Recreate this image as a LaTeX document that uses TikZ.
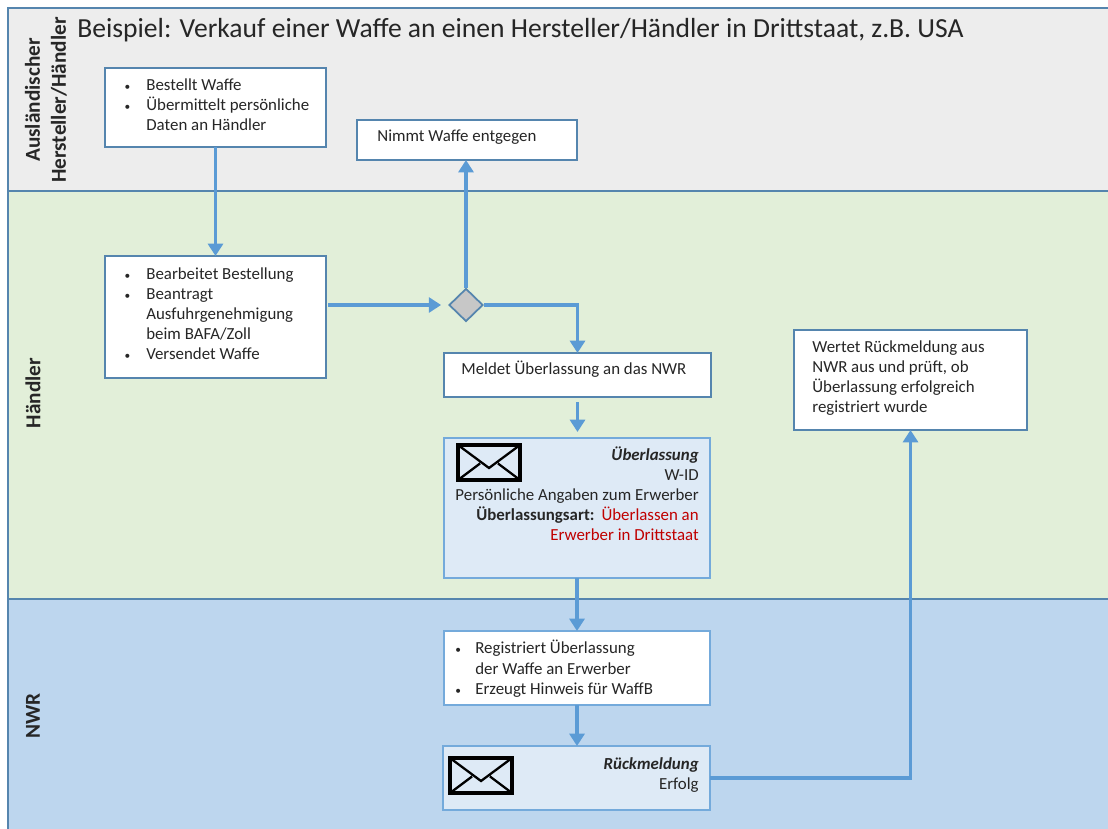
\documentclass[tikz,border=0pt]{standalone}
\usepackage{fontspec}
\setmainfont{Carlito}
\usetikzlibrary{arrows.meta,shapes.geometric,calc}
\definecolor{lanegray}{HTML}{EDEDED}
\definecolor{lanegreen}{HTML}{E2EFD9}
\definecolor{laneblue}{HTML}{BDD6EE}
\definecolor{msgblue}{HTML}{DEEAF6}
\definecolor{flowblue}{HTML}{5B9BD5}
\definecolor{edgeblue}{HTML}{5585AE}
\definecolor{textdark}{HTML}{262626}
\definecolor{textred}{HTML}{C00000}
\newcommand{\pxw}{0.02cm}
\newcommand{\dotmark}{{\fontsize{6.5}{6.5}\selectfont\textbullet}}
\newcommand{\bul}{\llap{\dotmark\hspace{9.2pt}}}
\newcommand{\bulb}{\llap{\dotmark\hspace{8.2pt}}}
\tikzset{
  procbox/.style={draw=edgeblue,fill=white,line width=1pt,inner sep=0pt,outer sep=0pt,anchor=north west},
  lightbox/.style={procbox,draw=flowblue!85},
  msgbox/.style={procbox,draw=flowblue!85,fill=msgblue},
  txt/.style={inner sep=0pt,anchor=north west,align=left,text=textdark,
    font=\fontsize{9.6}{11.45}\selectfont,execute at begin node={\rule{0pt}{7.5pt}}},
  txtr/.style={txt,anchor=north east,align=right},
  lanelabel/.style={rotate=90,inner sep=0pt,align=center,text=textdark,
    font=\fontsize{12.1}{14.8}\selectfont\bfseries},
  lane/.style={draw=edgeblue,line width=1pt},
  flow/.style={draw=flowblue,line width=2pt,-{Triangle[length=7pt,width=8.5pt]}},
  envelope/.style={draw=black,fill=msgblue,line width=2.4pt,inner sep=0pt,outer sep=0pt,anchor=north west,
    path picture={\draw[black,line width=1.3pt]
      (path picture bounding box.north west) -- ($(path picture bounding box.center)+(0,-5.5*\pxw)$)
      -- (path picture bounding box.north east)
      (path picture bounding box.south west) -- ($(path picture bounding box.center)+(-9*\pxw,-1*\pxw)$)
      (path picture bounding box.south east) -- ($(path picture bounding box.center)+(9*\pxw,-1*\pxw)$);}},
}
\begin{document}
\begin{tikzpicture}[x=\pxw,y=-\pxw]
\useasboundingbox (0,0) rectangle (1108,828);

% Drawing lanes
\filldraw [lane,fill=lanegray] (8,8) rectangle (1112,191);
\filldraw [lane,fill=lanegreen] (8,191) rectangle (1112,599);
\filldraw [lane,fill=laneblue] (8,599) rectangle (1112,834);

% Lane labels
\node [lanelabel] (lanea) at (46,100) {Ausländischer\\Hersteller/Händler};
\node [lanelabel] (laneb) at (33,393) {Händler};
\node [lanelabel] (lanec) at (33,716) {NWR};
\node [inner sep=0pt,anchor=west,text=textdark,font=\fontsize{15.7}{18}\selectfont] (title) at (77,30)
  {Beispiel: Verkauf einer Waffe an einen Hersteller/Händler in Drittstaat, z.B. USA};

% Drawing boxes
\node [procbox,minimum width=221*\pxw,minimum height=79*\pxw] (bestellt) at (105,68) {};
\node [procbox,minimum width=220*\pxw,minimum height=40*\pxw] (nimmt) at (357,120) {};
\node [procbox,minimum width=221*\pxw,minimum height=122*\pxw] (bearbeitet) at (105,256) {};
\node [procbox,minimum width=267*\pxw,minimum height=44*\pxw] (meldet) at (444,353) {};
\node [msgbox,minimum width=266*\pxw,minimum height=140*\pxw] (ueberlassung) at (444,438) {};
\node [lightbox,minimum width=266*\pxw,minimum height=74*\pxw] (registriert) at (444,631) {};
\node [msgbox,minimum width=267*\pxw,minimum height=64*\pxw] (rueckmeldung) at (443,746) {};
\node [procbox,minimum width=233*\pxw,minimum height=100*\pxw] (wertet) at (794,330) {};
\node [diamond,draw=edgeblue,fill=black!22,line width=1pt,inner sep=0pt,minimum width=34*\pxw,minimum height=33*\pxw] (gate) at (466,305) {};

% Envelopes
\node [envelope,minimum width=62*\pxw,minimum height=35*\pxw] (enva) at (458,445) {};
\node [envelope,minimum width=62*\pxw,minimum height=35*\pxw] (envb) at (450,758) {};

% Box texts
\node [txt] (tbestellt) at (146,78) {\bul Bestellt Waffe\\\bul Übermittelt persönliche\\Daten an Händler};
\node [txt] (tnimmt) at (377,128) {Nimmt Waffe entgegen};
\node [txt] (tbearbeitet) at (146,267) {\bul Bearbeitet Bestellung\\\bul Beantragt\\Ausfuhrgenehmigung\\beim BAFA/Zoll\\\bul Versendet Waffe};
\node [txt] (tmeldet) at (461,361) {Meldet Überlassung an das NWR};
\node [txtr] (tueberlassung) at (699,446) {\textbf{\textit{Überlassung}}\\W-ID\\Persönliche Angaben zum Erwerber\\
  \textbf{Überlassungsart:}\hspace{4pt}\textcolor{textred}{Überlassen an}\\\textcolor{textred}{Erwerber in Drittstaat}};
\node [txt] (tregistriert) at (475,640) {\bulb Registriert Überlassung\\der Waffe an Erwerber\\\bulb Erzeugt Hinweis für WaffB};
\node [txtr] (trueckmeldung) at (699,757) {\textbf{\textit{Rückmeldung}}\\Erfolg};
\node [txt] (twertet) at (812,340) {Wertet Rückmeldung aus\\NWR aus und prüft, ob\\Überlassung erfolgreich\\registriert wurde};

% Drawing flows
\draw [flow] (bestellt.south) -- (bearbeitet.north);
\draw [flow,shorten <=2*\pxw,shorten >=7*\pxw] (gate.west -| bearbeitet.east) -- (gate.west);
\draw [flow] (gate.north) -- (gate.north |- nimmt.south);
\draw [flow] (gate.east) -| (meldet.north);
\draw [flow,shorten <=5*\pxw,shorten >=6*\pxw] (meldet.south) -- (ueberlassung.north -| meldet.south);
\draw [flow] (ueberlassung.south) -- (registriert.north);
\draw [flow] (registriert.south) -- (rueckmeldung.north -| registriert.south);
\draw [flow] (rueckmeldung.east) -| (wertet.south);
\end{tikzpicture}
\end{document}
